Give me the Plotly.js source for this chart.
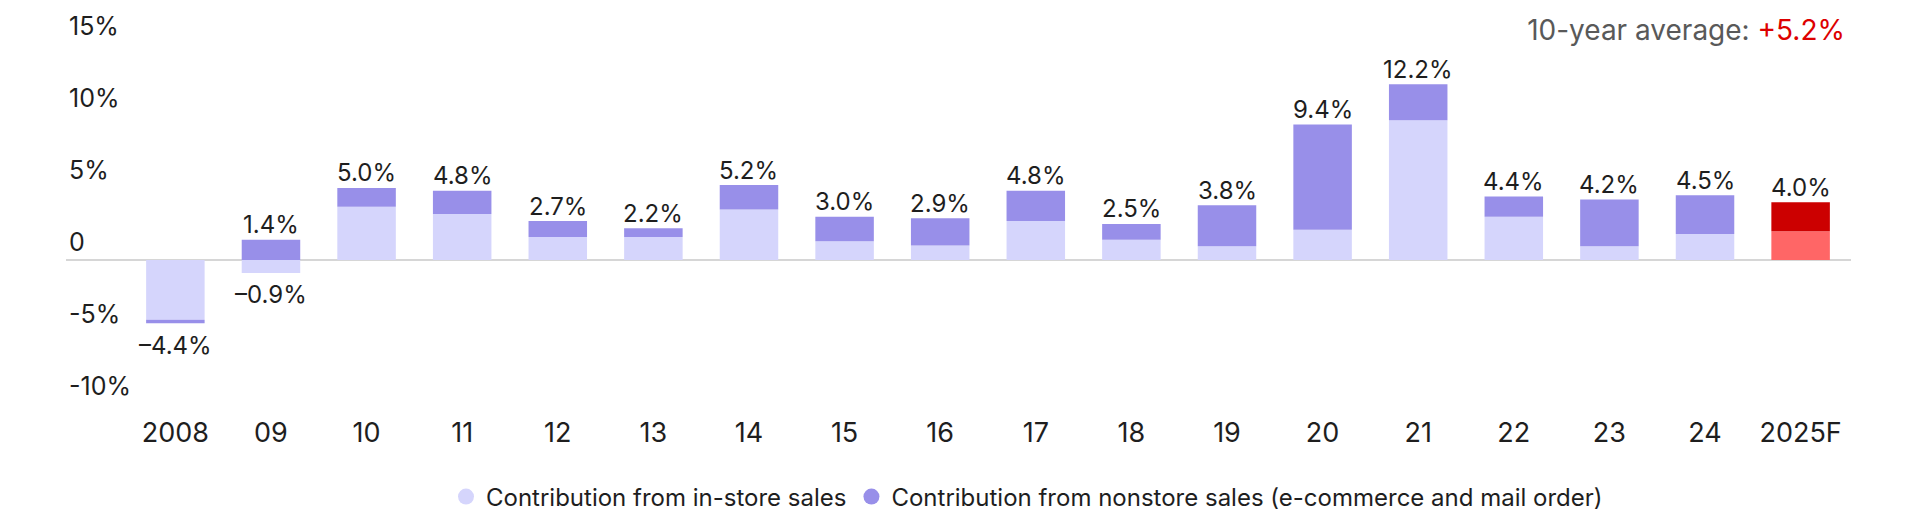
<!DOCTYPE html>
<html>
<head>
<meta charset="utf-8">
<script src="https://cdn.plot.ly/plotly-3.0.1.min.js"></script>
<style>
html,body{margin:0;padding:0;background:#fff;}
#chart{width:1920px;height:523px;}
</style>
</head>
<body>
<div id="chart"></div>
<script>
// ---- data ----
const categories = ["2008","09","10","11","12","13","14","15","16","17","18","19","20","21","22","23","24","2025F"];
const inStore  = [-4.15, -0.9, 3.7, 3.2, 1.6, 1.6, 3.5, 1.3, 1.0, 2.7, 1.4, 0.95, 2.1, 9.7, 3.0, 0.95, 1.8, 2.0];
const nonStore = [-0.25, 1.4, 1.3, 1.6, 1.1, 0.6, 1.7, 1.7, 1.9, 2.1, 1.1, 2.85, 7.3, 2.5, 1.4, 3.25, 2.7, 2.0];
const topLabels    = ["", "1.4%", "5.0%", "4.8%", "2.7%", "2.2%", "5.2%", "3.0%", "2.9%", "4.8%", "2.5%", "3.8%", "9.4%", "12.2%", "4.4%", "4.2%", "4.5%", "4.0%"];
const bottomLabels = ["–4.4%", "–0.9%", "", "", "", "", "", "", "", "", "", "", "", "", "", "", "", ""];
const yTickVals  = [-10, -5, 0, 5, 10, 15];
const yTickText  = ["-10%", "-5%", "0", "5%", "10%", "15%"];
const seriesNames = ["Contribution from in-store sales", "Contribution from nonstore sales (e-commerce and mail order)"];
const averageLabel = "10-year average: ";
const averageValue = "+5.2%";

// ---- styles ----
const LIGHT = "#d5d5fc", DARK = "#988fe9", RED_LIGHT = "#ff6666", RED_DARK = "#cc0000";
const isForecast = c => c.endsWith("F");
const FONT = "Inter, Roboto, sans-serif";
const TXT = "#1e1e1e";

const posTop = categories.map((c, i) => Math.max(inStore[i], 0) + Math.max(nonStore[i], 0));
const negBottom = categories.map((c, i) => Math.min(inStore[i], 0) + Math.min(nonStore[i], 0));

const traces = [
  {
    type: "bar", x: categories, y: inStore, name: seriesNames[0], showlegend: false,
    marker: { color: categories.map(c => isForecast(c) ? RED_LIGHT : LIGHT) },
    hoverinfo: "skip"
  },
  {
    type: "bar", x: categories, y: nonStore, name: seriesNames[1], showlegend: false,
    marker: { color: categories.map(c => isForecast(c) ? RED_DARK : DARK) },
    hoverinfo: "skip"
  },
  {
    type: "scatter", mode: "markers", x: [null], y: [null], name: seriesNames[0],
    marker: { symbol: "circle", size: 21, color: LIGHT }
  },
  {
    type: "scatter", mode: "markers", x: [null], y: [null], name: seriesNames[1],
    marker: { symbol: "circle", size: 21, color: DARK }
  }
];

// value labels: x given as category index (numeric-looking category names would be misread)
const annotations = [];
categories.forEach((c, i) => {
  if (topLabels[i]) annotations.push({
    x: i, y: posTop[i], xref: "x", yref: "y", text: topLabels[i], showarrow: false,
    yanchor: "middle", yshift: 15, font: { family: FONT, size: 24, color: TXT }
  });
  if (bottomLabels[i]) annotations.push({
    x: i, y: negBottom[i], xref: "x", yref: "y", text: bottomLabels[i], showarrow: false,
    yanchor: "middle", yshift: -22, font: { family: FONT, size: 24, color: TXT }
  });
});

const layout = {
  width: 1920, height: 523,
  margin: { l: 66, r: 69, t: 7.5, b: 109.4 },
  paper_bgcolor: "#fff", plot_bgcolor: "#fff",
  barmode: "relative",
  bargap: 0.388,
  font: { family: FONT, color: TXT },
  title: {
    text: averageLabel + '<span style="color:#dd0000">' + averageValue + '</span>',
    font: { family: FONT, size: 28, color: "#595959" },
    xref: "container", x: 1845 / 1920, xanchor: "right",
    yref: "container", y: 1 - 30 / 523, yanchor: "middle"
  },
  annotations: annotations,
  xaxis: {
    type: "category",
    range: [-1.144, 17.527],
    showgrid: false, zeroline: false, showline: false, ticks: "",
    tickfont: { family: FONT, size: 27, color: TXT },
    fixedrange: true
  },
  yaxis: {
    range: [-10.7, 17.5],
    tickvals: yTickVals, ticktext: yTickText,
    ticklabelposition: "inside top",
    showgrid: false, showline: false, ticks: "",
    zeroline: true, zerolinecolor: "#d6d6d6", zerolinewidth: 2,
    tickfont: { family: FONT, size: 25, color: TXT },
    fixedrange: true
  },
  showlegend: true,
  legend: {
    orientation: "h",
    xref: "container", x: 446 / 1920, xanchor: "left",
    yref: "container", y: 1 - 497 / 523, yanchor: "middle",
    font: { family: FONT, size: 24, color: TXT },
    itemsizing: "trace",
    bgcolor: "rgba(0,0,0,0)"
  }
};

Plotly.newPlot("chart", traces, layout, { displayModeBar: false, staticPlot: true });
</script>
</body>
</html>
